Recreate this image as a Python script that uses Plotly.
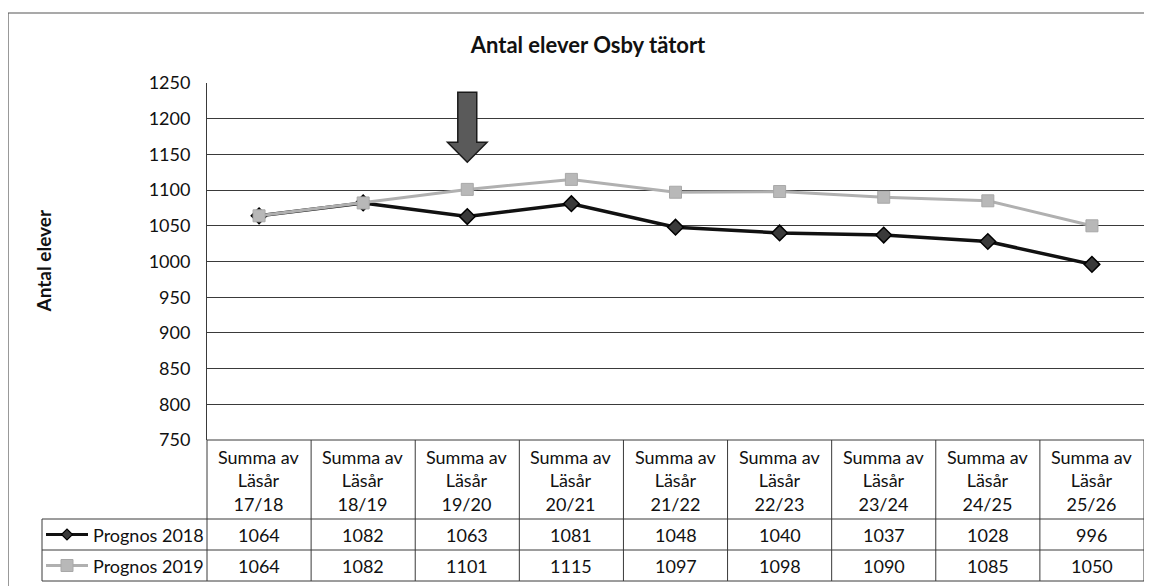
import plotly.graph_objects as go

# ---- data ----
school_years = ["17/18", "18/19", "19/20", "20/21", "21/22", "22/23", "23/24", "24/25", "25/26"]
header_prefix = "Summa av<br>Läsår<br>"
prognos_2018 = [1064, 1082, 1063, 1081, 1048, 1040, 1037, 1028, 996]
prognos_2019 = [1064, 1082, 1101, 1115, 1097, 1098, 1090, 1085, 1050]
series_names = ["Prognos 2018", "Prognos 2019"]
y_ticks = list(range(750, 1251, 50))
title_text = "Antal elever Osby tätort"
y_title = "Antal elever"

FONT = "Lato"
OFF = 8  # default page body margin
W, H = 1144, 578
# reference pixel positions (page coords)
REF_L, REF_R, REF_T, REF_B = 207, 1144, 83, 440
L = REF_L - OFF
T = REF_T - OFF
R = W - (REF_R - OFF)
B = H - (REF_B - OFF)
PW = W - L - R
PH = H - T - B


def px_x(px):
    return (px - REF_L) / PW


def px_y(py):
    return (REF_B - py) / PH


xs = list(range(len(school_years)))
LINE_C = "#3a3a3a"
TXT = "#111111"

fig = go.Figure()
fig.add_trace(go.Scatter(
    x=xs, y=prognos_2018, mode="lines+markers", name=series_names[0],
    line=dict(color="#111111", width=3.5),
    marker=dict(symbol="diamond", size=12, color="#3a3a3a", line=dict(color="#000", width=1.5)),
    showlegend=False, cliponaxis=False))
fig.add_trace(go.Scatter(
    x=xs, y=prognos_2019, mode="lines+markers", name=series_names[1],
    line=dict(color="#b0b0b0", width=3),
    marker=dict(symbol="square", size=12, color="#b8b8b8", line=dict(color="#a8a8a8", width=1)),
    showlegend=False, cliponaxis=False))

shapes = []
annots = []

# outer border
shapes.append(dict(type="rect", xref="paper", yref="paper",
                   x0=px_x(8), x1=px_x(1175), y0=px_y(620), y1=px_y(13),
                   line=dict(color="#555", width=1.2), layer="below"))

# table geometry (pixel rows)
rows_px = [440, 519, 550, 581]
leg_left = 42
n = len(school_years)
shapes.append(dict(type="line", xref="paper", yref="paper", x0=0, x1=1,
                   y0=px_y(rows_px[0]), y1=px_y(rows_px[0]), line=dict(color=LINE_C, width=1)))
for r in rows_px[1:]:
    shapes.append(dict(type="line", xref="paper", yref="paper", x0=px_x(leg_left), x1=1,
                       y0=px_y(r), y1=px_y(r), line=dict(color=LINE_C, width=1)))
for i in range(n + 1):
    shapes.append(dict(type="line", xref="paper", yref="paper", x0=i / n, x1=i / n,
                       y0=px_y(rows_px[0]), y1=px_y(rows_px[-1]), line=dict(color=LINE_C, width=1)))
shapes.append(dict(type="line", xref="paper", yref="paper", x0=px_x(leg_left), x1=px_x(leg_left),
                   y0=px_y(rows_px[1]), y1=px_y(rows_px[-1]), line=dict(color=LINE_C, width=1)))

# header cells
for i, yr in enumerate(school_years):
    annots.append(dict(x=xs[i], xref="x", y=px_y((rows_px[0] + rows_px[1]) / 2 + 1), yref="paper",
                       text=header_prefix + yr, showarrow=False,
                       font=dict(family=FONT, size=18, color=TXT), align="center",
                       xanchor="center", yanchor="middle"))
# value cells
for r_idx, vals in enumerate([prognos_2018, prognos_2019]):
    yc = px_y((rows_px[r_idx + 1] + rows_px[r_idx + 2]) / 2)
    for i, v in enumerate(vals):
        annots.append(dict(x=xs[i], xref="x", y=yc, yref="paper", text=str(v), showarrow=False,
                           font=dict(family=FONT, size=18, color=TXT),
                           xanchor="center", yanchor="middle"))
    annots.append(dict(x=px_x(91), xref="paper", y=yc, yref="paper", text=series_names[r_idx],
                       showarrow=False, font=dict(family=FONT, size=18, color=TXT),
                       xanchor="left", yanchor="middle"))

# legend samples
y1c = px_y((rows_px[1] + rows_px[2]) / 2)
y2c = px_y((rows_px[2] + rows_px[3]) / 2)
shapes.append(dict(type="line", xref="paper", yref="paper", x0=px_x(46), x1=px_x(88),
                   y0=y1c, y1=y1c, line=dict(color="#111", width=3)))
shapes.append(dict(type="line", xref="paper", yref="paper", x0=px_x(46), x1=px_x(88),
                   y0=y2c, y1=y2c, line=dict(color="#b0b0b0", width=3)))
cx = px_x(67)
dx, dy = 5.5 / PW, 5.5 / PH
shapes.append(dict(type="path", xref="paper", yref="paper",
                   path=f"M {cx-dx} {y1c} L {cx} {y1c+dy} L {cx+dx} {y1c} L {cx} {y1c-dy} Z",
                   fillcolor="#3a3a3a", line=dict(color="#000", width=1.2)))
sx, sy = 6 / PW, 6 / PH
shapes.append(dict(type="rect", xref="paper", yref="paper",
                   x0=cx - sx, x1=cx + sx, y0=y2c - sy, y1=y2c + sy,
                   fillcolor="#b8b8b8", line=dict(color="#a8a8a8", width=1)))

# arrow above 19/20
ax = xs[2]
hw_s, hw_h = 0.091, 0.19
y_top, y_base, y_tip = 1237, 1167, 1139
shapes.append(dict(type="path", xref="x", yref="y",
                   path=(f"M {ax-hw_s} {y_top} L {ax+hw_s} {y_top} L {ax+hw_s} {y_base} "
                         f"L {ax+hw_h} {y_base} L {ax} {y_tip} L {ax-hw_h} {y_base} "
                         f"L {ax-hw_s} {y_base} Z"),
                   fillcolor="#5a5a5a", line=dict(color="#1a1a1a", width=1.5)))

# y axis title
annots.append(dict(x=px_x(43), xref="paper", y=0.5, yref="paper", text="<b>" + y_title + "</b>",
                   textangle=-90, showarrow=False, font=dict(family=FONT, size=19, color=TXT),
                   xanchor="center", yanchor="middle"))

fig.update_layout(
    width=W, height=H,
    margin=dict(l=L, r=R, t=T, b=B, pad=0),
    paper_bgcolor="white", plot_bgcolor="white",
    title=dict(text="<b>" + title_text + "</b>", x=(588 - OFF) / W, xref="container", xanchor="center",
               y=1 - (45 - OFF) / H, yref="container", yanchor="middle",
               font=dict(family=FONT, size=22, color=TXT)),
    xaxis=dict(range=[-0.5, n - 0.5], showticklabels=False, showgrid=False, zeroline=False,
               showline=False, ticks=""),
    yaxis=dict(range=[750, 1250], tickvals=y_ticks, ticktext=[str(t) for t in y_ticks],
               showgrid=True, gridcolor=LINE_C, gridwidth=1, zeroline=False,
               showline=True, linecolor=LINE_C, linewidth=1, ticks="",
               ticklabelstandoff=12,
               tickfont=dict(family=FONT, size=18, color=TXT)),
    shapes=shapes, annotations=annots,
)

fig.write_html("out.html")
